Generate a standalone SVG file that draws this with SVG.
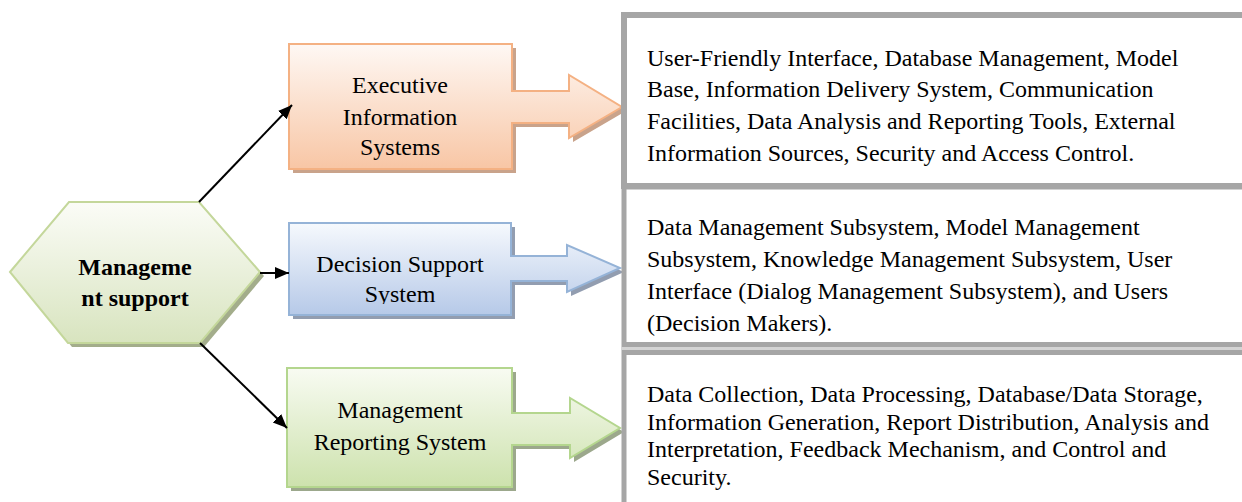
<svg xmlns="http://www.w3.org/2000/svg" width="1242" height="502" viewBox="0 0 1242 502">
<defs>
<style>
.t{font-family:"Liberation Serif","Times New Roman",serif;font-size:24px;fill:#000}
.c{text-anchor:middle}
.b{font-weight:bold}
.gb{fill:#fff;stroke:#a6a6a6}
.con{stroke:#000;stroke-width:2;fill:none}
</style>
<linearGradient id="gO" x1="0" y1="0" x2="0" y2="1"><stop offset="0" stop-color="#fef8f4"/><stop offset="1" stop-color="#f8c6a5"/></linearGradient>
<linearGradient id="gB" x1="0" y1="0" x2="0" y2="1"><stop offset="0" stop-color="#f6f9fd"/><stop offset="1" stop-color="#b6c9e8"/></linearGradient>
<linearGradient id="gG" x1="0" y1="0" x2="0" y2="1"><stop offset="0" stop-color="#f8fbf2"/><stop offset="1" stop-color="#cde2ad"/></linearGradient>
<linearGradient id="gH" x1="0" y1="0" x2="0" y2="1"><stop offset="0" stop-color="#fbfcf7"/><stop offset="1" stop-color="#d8e4bf"/></linearGradient>
<marker id="ah" markerUnits="userSpaceOnUse" markerWidth="16" markerHeight="14" refX="14" refY="6" orient="auto"><path d="M0,0 L14,6 L0,12 z" fill="#000"/></marker>
<clipPath id="clipDSS"><rect x="280" y="220" width="240" height="84"/></clipPath>
<clipPath id="clipB2"><rect x="630" y="190" width="612" height="152"/></clipPath>
</defs>
<rect width="1242" height="502" fill="#fff"/>

<g id="hexagon">
<polygon points="14,276 73,206 203,206 264,276 204,347 72,347" fill="#a3ad8b"/>
<polygon points="10,272 69,202 199,202 260,272 200,343 68,343" fill="url(#gH)" stroke="#c4d79b" stroke-width="2"/>
<text class="t c b" x="135" y="275">Manageme</text>
<text class="t c b" x="135" y="306">nt support</text>
</g>

<g id="eis">
<polygon points="293,48 516,48 516,95 573,95 573,79 626,111 573,142 573,127 516,127 516,173 293,173" fill="#c9a38b"/>
<polygon points="289,44 512,44 512,91 569,91 569,75 622,107 569,138 569,123 512,123 512,169 289,169" fill="url(#gO)" stroke="#f4b183" stroke-width="2"/>
<text class="t c" x="400" y="93">Executive</text>
<text class="t c" x="400" y="125">Information</text>
<text class="t c" x="400" y="155">Systems</text>
</g>

<g id="dss">
<polygon points="293,227 515,227 515,260 571,260 571,249 624,272 571,296 571,285 515,285 515,319 293,319" fill="#929db0"/>
<polygon points="289,223 511,223 511,256 567,256 567,245 620,268 567,292 567,281 511,281 511,315 289,315" fill="url(#gB)" stroke="#95b3d7" stroke-width="2"/>
<g clip-path="url(#clipDSS)">
<text class="t c" x="400" y="272">Decision Support</text>
<text class="t c" x="400" y="302">System</text>
</g>
</g>

<g id="mrs">
<polygon points="291,372 516,372 516,417 574,417 574,402 624,432 574,462 574,449 516,449 516,491 291,491" fill="#9ca88c"/>
<polygon points="287,368 512,368 512,413 570,413 570,398 620,428 570,458 570,445 512,445 512,487 287,487" fill="url(#gG)" stroke="#b4d68e" stroke-width="2"/>
<text class="t c" x="400" y="418">Management</text>
<text class="t c" x="400" y="450">Reporting System</text>
</g>

<g id="connectors">
<line class="con" x1="199" y1="202" x2="292" y2="105" marker-end="url(#ah)"/>
<line class="con" x1="260" y1="273" x2="289" y2="273" marker-end="url(#ah)"/>
<line class="con" x1="200" y1="343" x2="287" y2="428" marker-end="url(#ah)"/>
</g>

<g id="box1">
<rect class="gb" x="624" y="15" width="700" height="171" stroke-width="6"/>
<text class="t" x="647" y="66">User-Friendly Interface, Database Management, Model</text>
<text class="t" x="647" y="97">Base, Information Delivery System, Communication</text>
<text class="t" x="647" y="129">Facilities, Data Analysis and Reporting Tools, External</text>
<text class="t" x="647" y="161">Information Sources, Security and Access Control.</text>
</g>

<g id="box2">
<rect class="gb" x="624" y="187" width="700" height="157.5" stroke-width="5"/>
<g clip-path="url(#clipB2)">
<text class="t" x="647" y="235">Data Management Subsystem, Model Management</text>
<text class="t" x="647" y="267">Subsystem, Knowledge Management Subsystem, User</text>
<text class="t" x="647" y="299">Interface (Dialog Management Subsystem), and Users</text>
<text class="t" x="647" y="331">(Decision Makers).</text>
</g>
</g>

<rect x="621" y="347" width="621" height="3" fill="#d4d4d4"/>

<g id="box3">
<rect class="gb" x="624" y="352.5" width="700" height="200" stroke-width="5"/>
<text class="t" x="647" y="402">Data Collection, Data Processing, Database/Data Storage,</text>
<text class="t" x="647" y="430">Information Generation, Report Distribution, Analysis and</text>
<text class="t" x="647" y="457">Interpretation, Feedback Mechanism, and Control and</text>
<text class="t" x="647" y="485">Security.</text>
</g>
</svg>
